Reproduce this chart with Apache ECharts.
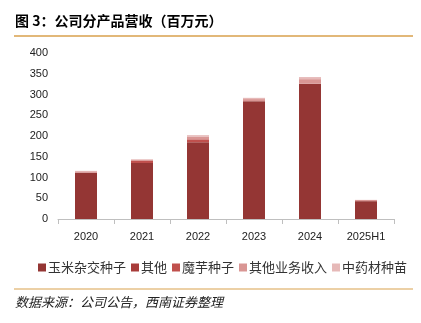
<!DOCTYPE html>
<html><head><meta charset="utf-8">
<script src="https://cdn.jsdelivr.net/npm/echarts@6/dist/echarts.min.js"></script>
<style>html,body{margin:0;padding:0;background:#fff}#c{width:421px;height:323px}</style>
</head><body><div id="c"></div>
<script>
const categories = ['2020','2021','2022','2023','2024','2025H1'];
const seriesNames = ['玉米杂交种子','其他','魔芋种子','其他业务收入','中药材种苗'];
const corn = [111, 135, 185, 284, 326, 43];
const other = [1, 0, 0, 0, 0, 0];
const konjac = [0, 5, 7, 0, 0, 0];
const otherBiz = [3, 3, 6, 5, 11, 3];
const herb = [1, 1, 4, 3, 5, 0];
const yTicks = {min: 0, max: 400, interval: 50};
const colors = ['#943634','#A83C3A','#C0504D','#D99694','#E6B9B8'];
const seriesData = [corn, other, konjac, otherBiz, herb];
const font = '"Noto Sans CJK SC", "Liberation Sans", sans-serif';
const chart = echarts.init(document.getElementById('c'), null, {renderer: 'canvas'});
chart.setOption({
  animation: false,
  textStyle: {fontFamily: font},
  graphic: [
    {type: 'text', left: 15, top: 14, style: {text: '图 3：公司分产品营收（百万元）', font: 'bold 14px ' + font, fill: '#000'}},
    {type: 'line', shape: {x1: 14, y1: 36, x2: 413, y2: 36}, style: {stroke: '#D9A14C', lineWidth: 1.5}},
    {type: 'line', shape: {x1: 14, y1: 289, x2: 413, y2: 289}, style: {stroke: '#D9A14C', lineWidth: 1}},
    {type: 'text', left: 15, top: 296, style: {text: '数据来源：公司公告，西南证券整理', font: 'italic 13px ' + font, fill: '#222'}}
  ],
  legend: {
    data: seriesNames, left: 33, top: 256, itemWidth: 8, itemHeight: 8, itemGap: 5,
    icon: 'rect', textStyle: {fontSize: 13, color: '#333', fontFamily: font, padding: [0,0,0,-3]}
  },
  grid: {left: 58, right: 27, top: 53, bottom: 104, containLabel: false},
  xAxis: {
    type: 'category', data: categories,
    axisLine: {lineStyle: {color: '#BFBFBF'}},
    axisTick: {show: true, alignWithLabel: false, length: 5, lineStyle: {color: '#BFBFBF'}},
    axisLabel: {fontSize: 11, color: '#222', margin: 12, fontFamily: '"Liberation Sans", sans-serif'}
  },
  yAxis: {
    type: 'value', min: yTicks.min, max: yTicks.max, interval: yTicks.interval,
    axisLine: {show: false}, axisTick: {show: false}, splitLine: {show: false},
    axisLabel: {fontSize: 11, color: '#222', margin: 10, fontFamily: '"Liberation Sans", sans-serif'}
  },
  series: seriesNames.map((n, i) => ({
    name: n, type: 'bar', stack: 'total', data: seriesData[i], barWidth: 22,
    itemStyle: {color: colors[i]}
  }))
});
</script></body></html>
